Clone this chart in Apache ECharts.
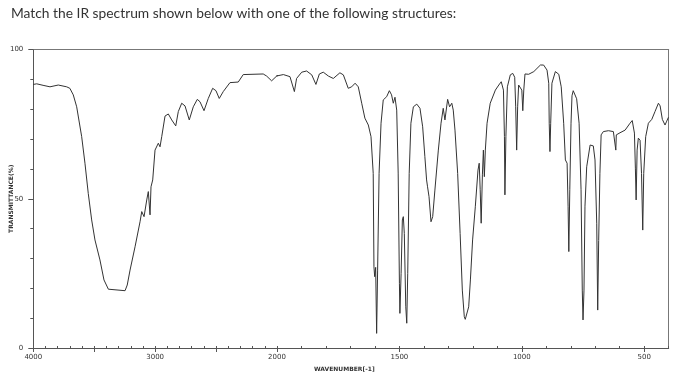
<!DOCTYPE html>
<html><head><meta charset="utf-8">
<script src="https://cdn.jsdelivr.net/npm/echarts@6/dist/echarts.min.js"></script>
<style>html,body{margin:0;padding:0;background:#fff}#c{width:692px;height:379px}</style>
</head><body><div id="c"></div>
<script>
const titleText = 'Match the IR spectrum shown below with one of the following structures:';
const yName = 'TRANSMITTANCE(%)';
const xName = 'WAVENUMBER[-1]';
const upperLabels = [4000, 3000, 2000];
const lowerLabels = [1500, 1000, 500];
const yLabels = [0, 50, 100];
const wavenumber = [4000,3972,3920,3863,3795,3726,3700,3672,3644,3603,3576,3549,3521,3494,3453,3420,3384,3370,3247,3229,3206,3165,3124,3110,3091,3069,3056,3042,3034,3020,3001,2974,2960,2946,2919,2892,2864,2831,2810,2782,2755,2720,2687,2654,2632,2599,2564,2528,2501,2474,2441,2386,2318,2277,2113,2085,2044,2003,1974,1947,1929,1920,1899,1879,1858,1841,1827,1811,1790,1770,1743,1729,1709,1695,1681,1668,1654,1641,1627,1616,1607,1604,1601,1597,1593,1589,1583,1575,1566,1552,1541,1532,1525,1518,1511,1505,1500,1498,1493,1488,1484,1480,1474,1470,1466,1460,1453,1443,1429,1416,1405,1396,1389,1385,1379,1371,1364,1355,1341,1330,1321,1314,1303,1295,1286,1280,1273,1262,1252,1243,1235,1231,1217,1210,1201,1190,1179,1174,1170,1166,1161,1157,1153,1149,1142,1129,1108,1094,1084,1075,1071,1069,1065,1059,1047,1037,1029,1025,1021,1017,1013,1006,1000,996,992,987,972,951,924,911,897,890,888,885,882,877,863,849,839,829,822,815,811,808,804,799,795,790,776,766,758,753,750,746,742,735,721,708,701,694,690,686,681,676,667,646,626,619,616,614,599,578,558,549,540,536,533,529,524,517,511,506,502,494,483,469,456,442,435,426,415,408,401];
const transmittance = [88.3,88.5,88.0,87.5,88.1,87.5,87.0,84.8,80.8,70.8,61.9,51.8,42.9,36.2,29.5,22.8,19.7,19.2,19.2,21.1,26.1,33.9,42.3,45.7,44.0,49.6,52.4,44.6,54.0,56.3,66.3,68.6,67.4,70.8,77.7,78.4,76.4,74.4,79.2,82.0,81.1,76.4,80.8,83.3,82.5,79.5,83.6,87.0,86.2,83.6,85.9,88.9,89.1,91.6,91.8,91.1,89.5,91.1,91.6,90.9,85.9,90.3,92.4,92.8,91.5,88.3,91.8,92.4,91.1,90.3,92.2,91.5,87.0,87.5,88.7,87.5,82.0,77.0,74.7,70.8,58.5,27.2,23.9,27.0,4.9,26.1,58.5,75.3,83.1,84.2,86.2,84.8,82.0,84.0,79.7,58.6,21.7,11.6,25.0,42.9,44.0,38.4,13.8,8.3,25.0,58.5,75.3,80.8,81.7,80.3,74.1,64.1,56.3,54.0,50.7,42.3,44.0,52.9,66.3,75.3,80.3,76.4,83.3,80.8,82.0,79.7,73.0,58.5,38.4,19.4,10.5,9.6,13.8,22.8,36.2,47.3,59.6,61.9,53.0,41.8,58.0,66.3,57.4,66.3,75.3,82.0,86.4,88.1,89.2,86.4,70.8,51.3,70.8,87.5,91.5,92.0,90.7,80.8,66.3,80.8,88.1,88.5,86.4,79.5,86.4,91.8,91.7,92.6,94.8,94.8,93.1,88.7,75.3,65.8,75.3,88.7,92.6,91.7,87.5,75.3,63.0,61.9,47.5,32.3,53.0,75.3,84.5,86.2,83.5,75.3,53.0,19.4,9.4,19.4,47.5,60.7,68.0,67.7,63.0,41.8,12.7,36.0,58.5,71.4,72.5,72.8,72.5,72.0,66.3,71.4,72.1,73.0,75.3,76.2,72.0,60.0,49.6,66.3,70.3,69.6,58.5,39.5,58.5,70.8,75.3,76.6,79.2,82.0,81.1,76.6,74.7,76.0,77.3];

const pairs = wavenumber.map((w, i) => [w, transmittance[i]]);
// upper panel (4000-2000) and lower panel (2000-400), each with one point past the boundary so the clipped line joins
let firstBelow = wavenumber.findIndex(w => w < 2000);
const upperData = pairs.slice(0, firstBelow + 1);
const lowerData = pairs.slice(firstBelow - 1);

const axisColor = '#555';
const lblFont = {fontFamily: 'DejaVu Sans', fontSize: 7, color: '#333', formatter: v => String(v)};
const G0L = 33.3, SPLIT = 277, RIGHT = 668.7, TOP = 49.5, BOTTOM = 348;

function xAxes(gi, min, max, labels, majorTicks) {
  return [
    {gridIndex: gi, type: 'value', inverse: true, min, max, position: 'bottom',
     axisLine: {show: true, onZero: false, lineStyle: {color: axisColor, width: 1}},
     axisTick: {show: true, inside: false, length: 4, customValues: majorTicks, lineStyle: {color: axisColor}},
     axisLabel: Object.assign({show: true, customValues: labels, margin: 6}, lblFont),
     splitLine: {show: false}},
    {gridIndex: gi, type: 'value', inverse: true, min, max, interval: 100, position: 'bottom',
     axisLine: {show: false, onZero: false},
     axisTick: {show: true, inside: true, length: 2, lineStyle: {color: axisColor}},
     axisLabel: {show: false}, splitLine: {show: false}},
    {gridIndex: gi, type: 'value', inverse: true, min, max, position: 'top',
     axisLine: {show: true, onZero: false, lineStyle: {color: '#777', width: 1}},
     axisTick: {show: false}, axisLabel: {show: false}, splitLine: {show: false}}
  ];
}

const option = {
  animation: false,
  backgroundColor: '#fff',
  title: [
    {text: titleText, left: 6, top: 2, textStyle: {fontFamily: 'Lato', fontSize: 13.8, fontWeight: 'normal', color: '#333'}},
    {text: xName, left: 309, top: 361, textStyle: {fontFamily: 'DejaVu Sans', fontSize: 6, fontWeight: 'bold', color: '#333'}}
  ],
  grid: [
    {left: G0L, top: TOP, width: SPLIT - G0L, height: BOTTOM - TOP},
    {left: SPLIT, top: TOP, width: RIGHT - SPLIT, height: BOTTOM - TOP}
  ],
  xAxis: [].concat(
    xAxes(0, 2000, 4000, upperLabels, [2000, 2500, 3000, 3500, 4000]),
    xAxes(1, 400, 2000, lowerLabels, [500, 1000, 1500, 2000])
  ),
  yAxis: [
    {gridIndex: 0, type: 'value', min: 0, max: 100, interval: 50, position: 'left',
     name: yName, nameLocation: 'middle', nameRotate: 90, nameGap: 19, nameMoveOverlap: false,
     nameTextStyle: {fontFamily: 'DejaVu Sans', fontSize: 6, fontWeight: 'bold', color: '#333'},
     axisLine: {show: true, onZero: false, lineStyle: {color: axisColor}},
     axisTick: {show: true, length: 5, lineStyle: {color: axisColor}},
     axisLabel: Object.assign({show: true, customValues: yLabels, margin: 10}, lblFont),
     splitLine: {show: false}},
    {gridIndex: 0, type: 'value', min: 0, max: 100, interval: 10, position: 'left',
     axisLine: {show: false}, axisTick: {show: true, length: 3, lineStyle: {color: axisColor}},
     axisLabel: {show: false}, splitLine: {show: false}},
    {gridIndex: 1, type: 'value', min: 0, max: 100, position: 'right',
     axisLine: {show: true, onZero: false, lineStyle: {color: '#777'}},
     axisTick: {show: false}, axisLabel: {show: false}, splitLine: {show: false}}
  ],
  series: [
    {type: 'line', xAxisIndex: 0, yAxisIndex: 0, data: upperData, showSymbol: false, clip: true,
     lineStyle: {color: '#333', width: 1}},
    {type: 'line', xAxisIndex: 3, yAxisIndex: 2, data: lowerData, showSymbol: false, clip: true,
     lineStyle: {color: '#333', width: 1}}
  ]
};
const chart = echarts.init(document.getElementById('c'), null, {renderer: 'canvas'});
chart.setOption(option);
</script>
</body></html>
